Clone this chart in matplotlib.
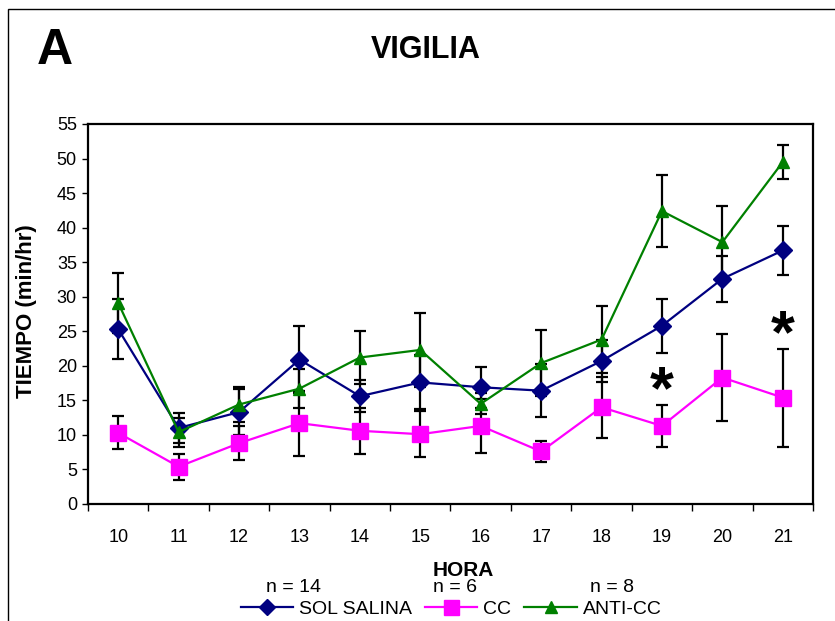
import matplotlib
matplotlib.use("Agg")
import matplotlib.pyplot as plt
import numpy as np

plt.rcParams['font.family'] = ['Liberation Sans', 'DejaVu Sans']

# hours on the x axis
hours = ['10', '11', '12', '13', '14', '15', '16', '17', '18', '19', '20', '21']

# mean time (min/hr) and error for each group
sol_salina = [25.3, 11.0, 13.3, 20.9, 15.6, 17.6, 16.9, 16.4, 20.7, 25.8, 32.6, 36.7]
sol_salina_err = [4.3, 2.2, 3.3, 4.8, 2.3, 3.9, 3.0, 3.8, 3.1, 3.9, 3.3, 3.5]
cc = [10.3, 5.4, 8.8, 11.7, 10.6, 10.1, 11.3, 7.6, 14.0, 11.3, 18.3, 15.4]
cc_err = [2.4, 1.9, 2.5, 4.7, 3.3, 3.3, 3.9, 1.5, 4.4, 3.0, 6.3, 7.1]
anti_cc = [29.1, 10.4, 14.4, 16.7, 21.2, 22.3, 14.5, 20.4, 23.8, 42.4, 37.9, 49.5]
anti_cc_err = [4.3, 2.1, 2.6, 2.8, 3.8, 5.4, 1.5, 4.8, 4.9, 5.2, 5.2, 2.4]

group_n = ['n = 14', 'n = 6', 'n = 8']

# significance marks (hour, y position)
star_hours = ['19', '21']
star_y = [17.6, 25.7]

fig = plt.figure(figsize=(8.35, 6.21), dpi=100)
ax = fig.add_axes([88 / 835, 1 - 504 / 621, (813 - 88) / 835, (504 - 124) / 621])

x = np.arange(len(hours))

series = [
    ('SOL SALINA', sol_salina, sol_salina_err, '#000080', 'D', 9),
    ('CC', cc, cc_err, '#FF00FF', 's', 12),
    ('ANTI-CC', anti_cc, anti_cc_err, '#008000', '^', 9),
]
for label, vals, err, color, marker, ms in series:
    ax.errorbar(x, vals, yerr=err, fmt='none', ecolor='black', elinewidth=1.6,
                capsize=4.5, capthick=1.6, zorder=2)
    ax.plot(x, vals, color=color, marker=marker, markersize=ms, linewidth=1.6,
            markeredgecolor=color, label=label, zorder=3)

star_fs = 44
for h, y in zip(star_hours, star_y):
    ax.annotate('*', xy=(hours.index(h), y), xytext=(0, -0.42 * star_fs),
                textcoords='offset points', fontsize=star_fs, fontweight='bold',
                ha='center', va='baseline', zorder=4)

ax.set_xlim(-0.5, len(hours) - 0.5)
ax.set_ylim(0, 55)
ax.set_yticks(np.arange(0, 56, 5))
ax.tick_params(axis='y', direction='out', length=4, width=1, labelsize=13, pad=4)

# tick marks between categories, labels at centres
ax.set_xticks(np.arange(-0.5, len(hours), 1))
ax.set_xticklabels([])
ax.set_xticks(x, minor=True)
ax.set_xticklabels(hours, minor=True)
ax.tick_params(axis='x', which='major', direction='out', length=5, width=1)
ax.tick_params(axis='x', which='minor', length=0, labelsize=13, pad=18)

for s in ax.spines.values():
    s.set_linewidth(1.6)

fig.text(27 / 835, 1 - 311 / 621, 'TIEMPO (min/hr)', fontsize=16, fontweight='bold',
         rotation=90, ha='center', va='center')
fig.text(463 / 835, 1 - 571 / 621, 'HORA', fontsize=15, fontweight='bold',
         ha='center', va='center')
fig.text(426 / 835, 1 - 50 / 621, 'VIGILIA', fontsize=22, fontweight='bold',
         ha='center', va='center')
fig.text(37 / 835, 1 - 51 / 621, 'A', fontsize=36, fontweight='bold',
         ha='left', va='center')

for xp, txt in zip([293, 455, 612], group_n):
    fig.text(xp / 835, 1 - 588 / 621, txt, fontsize=14, ha='center', va='center')

ax.legend(loc='center', bbox_to_anchor=(451 / 835, 1 - 609 / 621),
          bbox_transform=fig.transFigure, ncol=3, frameon=False, fontsize=14,
          handlelength=2.7, columnspacing=0.67, handletextpad=0.3, borderpad=0,
          markerscale=0.9)

# outer frame of the picture
fig.patches.append(plt.Rectangle((8 / 835, -0.1), 1.2, 1 - 9 / 621 + 0.1,
                                 transform=fig.transFigure, fill=False,
                                 edgecolor='black', linewidth=1))

fig.savefig('out.png', dpi=100)
